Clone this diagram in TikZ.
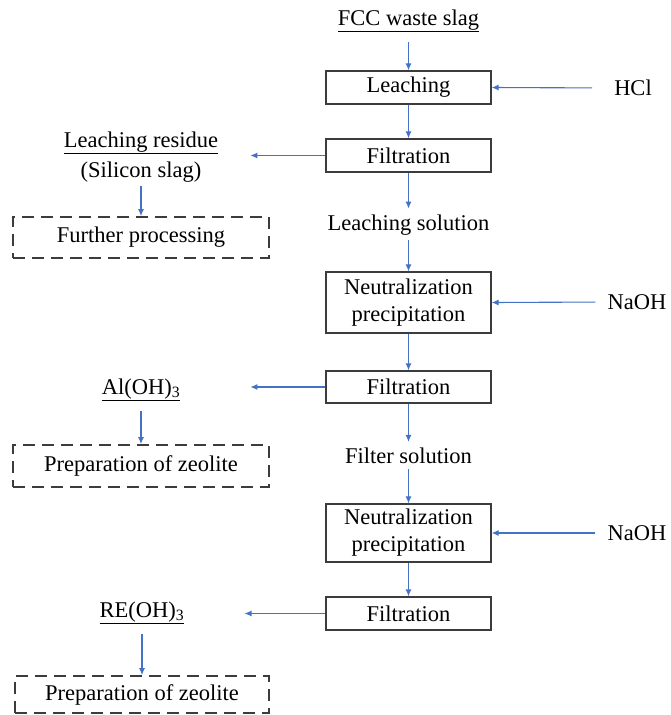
\documentclass[tikz,border=0pt]{standalone}
\usepackage{fontspec}
\setmainfont{Liberation Serif}
\usetikzlibrary{arrows.meta}
\definecolor{arrblue}{RGB}{68,114,196}
\definecolor{boxgray}{RGB}{60,60,60}
\begin{document}
\begin{tikzpicture}[x=1pt,y=-1pt,
  every node/.style={font=\fontsize{22.5}{27}\selectfont, text=black},
  procbox/.style={draw=boxgray, line width=1.3pt, minimum width=165pt, inner sep=0pt, align=center},
  dashbox/.style={draw=boxgray, line width=1.8pt, dash pattern=on 12pt off 7pt, minimum width=256pt, minimum height=41pt, inner sep=0pt},
  lbl/.style={inner sep=0pt, align=center},
  arr/.style={draw=arrblue, line width=1.1pt, -{Latex[length=7pt,width=6pt]}}
]
\useasboundingbox (0,0) rectangle (670,715);
% central column
\node[lbl] (fcc) at (408.5,21) {\underline{FCC waste slag}};
\node[procbox, minimum height=33pt] (leach) at (408.5,87.5) {Leaching};
\node[lbl] (hcl) at (633,88) {HCl};
\node[procbox, minimum height=33pt] (filt1) at (408.5,155.5) {Filtration};
\node[lbl] (lsol) at (408.5,225) {Leaching solution};
\node[procbox, minimum height=61pt] (neut1) at (408.5,302.5) {Neutralization\\precipitation};
\node[lbl] (naoh1) at (637,302) {NaOH};
\node[procbox, minimum height=32pt] (filt2) at (408.5,387) {Filtration};
\node[lbl] (fsol) at (408.5,456) {Filter solution};
\node[procbox, minimum height=58pt] (neut2) at (408.5,533) {Neutralization\\precipitation};
\node[lbl] (naoh2) at (637,533) {NaOH};
\node[procbox, minimum height=33pt] (filt3) at (408.5,613.5) {Filtration};
% left column
\node[lbl] (res) at (141,157) {\underline{Leaching residue}\\[3pt](Silicon slag)};
\node[dashbox] (fur) at (141,237.5) {Further processing};
\node[lbl] (al) at (141,390) {\underline{Al(OH)\textsubscript{3}}};
\node[dashbox, minimum height=42pt] (zeo1) at (141,466) {Preparation of zeolite};
\node[lbl] (re) at (142,613) {\underline{RE(OH)\textsubscript{3}}};
\node[dashbox, minimum width=254pt, minimum height=37pt] (zeo2) at (142,694.5) {Preparation of zeolite};
% connectors
\draw[arr, shorten <=10pt] (fcc.south) -- (leach.north);
\draw[arr, shorten <=22pt] (hcl.west) -- (leach.east);
\draw[arr] (leach.south) -- (filt1.north);
\draw[arr, shorten >=32pt] (filt1.west) -- (filt1.west -| res.east);
\draw[arr, shorten <=4pt] (res.south) -- (fur.north);
\draw[arr, shorten >=6pt] (filt1.south) -- (lsol.north);
\draw[arr, shorten <=5pt] (lsol.south) -- (neut1.north);
\draw[arr, shorten <=12pt] (naoh1.west) -- (neut1.east);
\draw[arr] (neut1.south) -- (filt2.north);
\draw[arr, shorten >=70pt] (filt2.west) -- (filt2.west -| al.east);
\draw[arr, shorten <=10pt] (al.south) -- (zeo1.north);
\draw[arr, shorten >=6pt] (filt2.south) -- (fsol.north);
\draw[arr, shorten <=5pt] (fsol.south) -- (neut2.north);
\draw[arr, shorten <=12pt] (naoh2.west) -- (neut2.east);
\draw[arr] (neut2.south) -- (filt3.north);
\draw[arr, shorten >=60pt] (filt3.west) -- (filt3.west -| re.east);
\draw[arr, shorten <=10pt] (re.south) -- (zeo2.north);
\end{tikzpicture}
\end{document}
